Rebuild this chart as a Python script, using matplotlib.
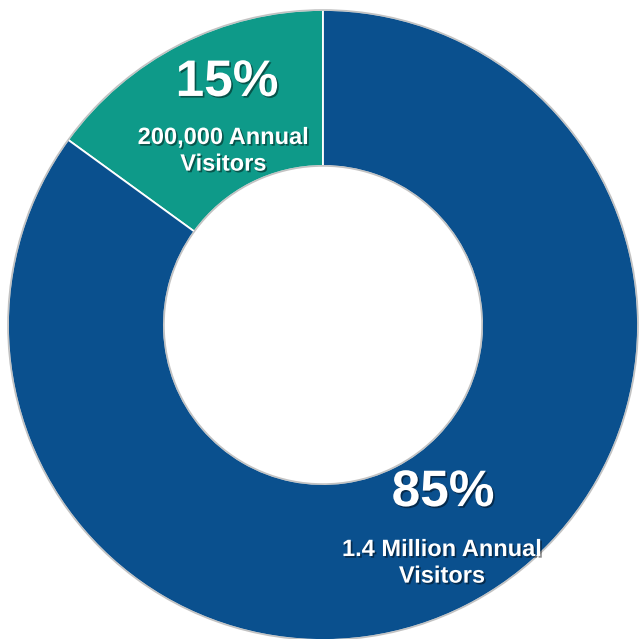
import matplotlib.pyplot as plt
import matplotlib.patheffects as pe
from matplotlib.patches import Circle

# visitor split
segments = ['200,000 Annual Visitors', '1.4 Million Annual Visitors']
shares = [15, 85]
pct_labels = ['15%', '85%']
sub_labels = ['200,000 Annual\nVisitors', '1.4 Million Annual\nVisitors']
colors = ['#0E9A89', '#0A508E']

plt.rcParams['font.family'] = ['Liberation Sans', 'DejaVu Sans']

fig = plt.figure(figsize=(6.4, 6.39), dpi=100)
ax = fig.add_axes([0, 0, 1, 1])

ring = 0.495
wedges, _ = ax.pie(shares, colors=colors, startangle=90, counterclock=True,
                   radius=1.0, wedgeprops=dict(width=ring, edgecolor='white', linewidth=1.3))

# faint grey rim round the ring, like the original's shadow
for r in (1.0, 1.0 - ring):
    ax.add_patch(Circle((0, 0), r, fill=False, edgecolor='#9a9a9a', linewidth=1.2, alpha=0.6, zorder=3))

shadow = [pe.withSimplePatchShadow(offset=(1.2, -1.2), shadow_rgbFace='black', alpha=0.45)]

# label spots (data units, radius = 1)
pct_pos = [(-0.305, 0.770), (0.381, -0.532)]
sub_pos = [(-0.316, 0.553), (0.378, -0.755)]

for i in range(len(shares)):
    ax.text(pct_pos[i][0], pct_pos[i][1], pct_labels[i], color='white', fontsize=37,
            fontweight='bold', ha='center', va='center', path_effects=shadow, zorder=5)
    ax.text(sub_pos[i][0], sub_pos[i][1], sub_labels[i], color='white', fontsize=17,
            fontweight='bold', ha='center', va='center', linespacing=1.2,
            path_effects=shadow, zorder=5)

ax.set_xlim(-323 / 315, 317 / 315)
ax.set_ylim(-314 / 315, 325 / 315)
ax.set_aspect('equal')
ax.axis('off')

fig.savefig('out.png', dpi=100)
